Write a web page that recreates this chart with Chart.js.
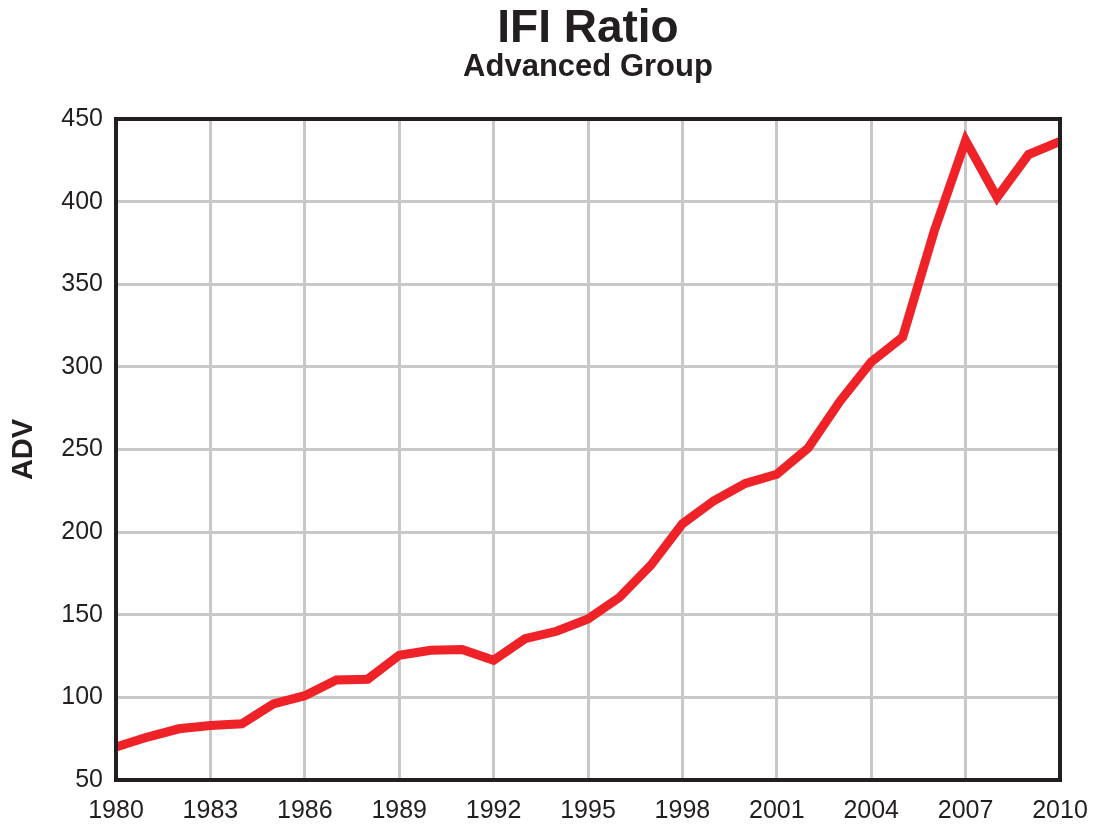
<!DOCTYPE html>
<html>
<head>
<meta charset="utf-8">
<script src="https://cdn.jsdelivr.net/npm/chart.js@4/dist/chart.umd.min.js"></script>
<style>
  html, body { margin: 0; padding: 0; background: #fff; }
  #wrap { width: 1099px; height: 828px; }
</style>
</head>
<body>
<div id="wrap"><canvas id="c"></canvas></div>
<script>
// values
var years = [1980, 1981, 1982, 1983, 1984, 1985, 1986, 1987, 1988, 1989,
             1990, 1991, 1992, 1993, 1994, 1995, 1996, 1997, 1998, 1999,
             2000, 2001, 2002, 2003, 2004, 2005, 2006, 2007, 2008, 2009, 2010];
var adv = [70, 76, 81, 83, 84, 96, 101, 110.5, 111, 125.5,
           128.5, 129, 122.5, 135.5, 140, 147.5, 160.5, 180, 205, 219,
           229.5, 235, 251, 279, 303, 318, 382, 437, 402.5, 428.5, 436.5];
var titleText = "IFI Ratio";
var subtitleText = "Advanced Group";
var yLabel = "ADV";

var pts = [];
for (var i = 0; i < years.length; i++) {
    pts.push({x: years[i], y: adv[i]});
}

var font = '"Liberation Sans", Arial, Helvetica, sans-serif';
var ink = '#231f20';

// box around the plot area + titles centred over the plot
var frame = {
    id: 'frame',
    afterDatasetsDraw: function(chart) {
        var a = chart.chartArea, ctx = chart.ctx;
        ctx.save();
        ctx.strokeStyle = ink;
        ctx.lineWidth = 4;
        ctx.strokeRect(a.left, a.top, a.right - a.left, a.bottom - a.top);
        var cx = (a.left + a.right) / 2;
        ctx.fillStyle = ink;
        ctx.textAlign = 'center';
        ctx.textBaseline = 'alphabetic';
        ctx.font = 'bold 46px ' + font;
        ctx.fillText(titleText, cx, 42);
        ctx.font = 'bold 31px ' + font;
        ctx.fillText(subtitleText, cx, 76);
        ctx.restore();
    }
};

new Chart(document.getElementById('c'), {
    type: 'line',
    data: {
        datasets: [{
            data: pts,
            borderColor: '#ee2227',
            borderWidth: 9,
            pointRadius: 0,
            tension: 0,
            borderJoinStyle: 'miter',
            clip: false
        }]
    },
    options: {
        responsive: true,
        maintainAspectRatio: false,
        animation: false,
        layout: { padding: { left: 0, right: 39, top: 119, bottom: 2 } },
        plugins: {
            legend: { display: false },
            tooltip: { enabled: false }
        },
        scales: {
            x: {
                type: 'linear',
                min: 1980,
                max: 2010,
                afterFit: function(s) { s.height = 46; s.paddingLeft = 0; s.paddingRight = 0; },
                ticks: {
                    stepSize: 3,
                    color: ink,
                    font: { family: font, size: 25 },
                    padding: 16,
                    maxRotation: 0,
                    callback: function(v) { return String(v); }
                },
                grid: { color: '#c8c8c8', lineWidth: 3, drawTicks: false },
                border: { display: false }
            },
            y: {
                min: 50,
                max: 450,
                afterFit: function(s) { s.width = 116; },
                ticks: {
                    stepSize: 50,
                    color: ink,
                    font: { family: font, size: 25 },
                    padding: 13
                },
                grid: { color: '#c8c8c8', lineWidth: 3, drawTicks: false },
                border: { display: false },
                title: {
                    display: true,
                    text: yLabel,
                    color: ink,
                    font: { family: font, size: 29, weight: 'bold' },
                    padding: { top: 7, bottom: 7 }
                }
            }
        }
    },
    plugins: [frame]
});
</script>
</body>
</html>
